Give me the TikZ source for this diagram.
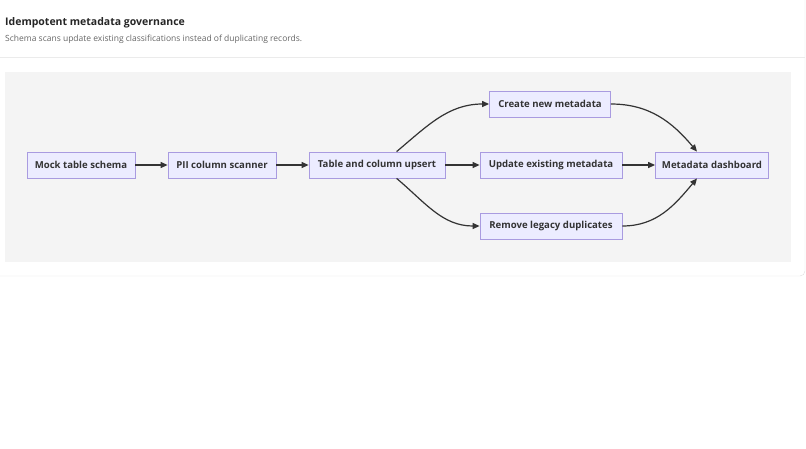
\documentclass[tikz,border=0pt]{standalone}
\usepackage{fontspec}
\setmainfont{Open Sans}
\usetikzlibrary{positioning,arrows.meta}
\definecolor{boxfill}{HTML}{ECECFF}
\definecolor{boxline}{HTML}{A99BE0}
\definecolor{panel}{HTML}{F4F4F4}
\definecolor{ink}{HTML}{333333}
\tikzset{
  stage/.style={draw=boxline, fill=boxfill, line width=0.8pt, minimum height=26pt,
    inner xsep=3pt, text=ink, font=\fontsize{9.6}{12}\selectfont\bfseries},
  link/.style={-{Triangle[length=7pt,width=6pt]}, draw=ink, line width=1.2pt}
}
\begin{document}
\begin{tikzpicture}[x=1pt,y=-1pt]
\useasboundingbox (0,0) rectangle (806,448);
\draw[fill=white, draw=black!12, rounded corners=5pt] (-6,-6) rectangle (805,276);
\draw[black!8] (0,57) -- (805,57);
\node[anchor=base west, font=\fontsize{10.5}{12}\selectfont\bfseries, text=black!85, inner sep=0pt] (title) at (5,25) {Idempotent metadata governance};
\node[anchor=base west, font=\fontsize{8.5}{10}\selectfont, text=black!60, inner sep=0pt] (sub) at (5,41) {Schema scans update existing classifications instead of duplicating records.};
\fill[panel] (5,72) rectangle (791,262);
% flow
\node[stage, minimum width=108pt] (mock) at (81,165) {Mock table schema};
\node[stage, minimum width=108pt] (scan) at (222,165) {PII column scanner};
\node[stage, minimum width=136pt] (upsert) at (377,165) {Table and column upsert};
\node[stage, minimum width=121pt] (create) at (550,104) {Create new metadata};
\node[stage, minimum width=142pt] (update) at (551,165) {Update existing metadata};
\node[stage, minimum width=142pt] (remove) at (551,226) {Remove legacy duplicates};
\node[stage, minimum width=113pt] (dash) at (712,165) {Metadata dashboard};
\draw[link] (mock) -- (scan);
\draw[link] (scan) -- (upsert);
\draw[link] (upsert) -- (update);
\draw[link] (update) -- (dash);
\draw[link] ([xshift=88pt]upsert.north west) to[out=40,in=180] (create.west);
\draw[link] ([xshift=88pt]upsert.south west) to[out=-40,in=180] (remove.west);
\draw[link] (create.east) to[out=0,in=130] ([xshift=-15pt]dash.north);
\draw[link] (remove.east) to[out=0,in=-130] ([xshift=-15pt]dash.south);
\end{tikzpicture}
\end{document}
